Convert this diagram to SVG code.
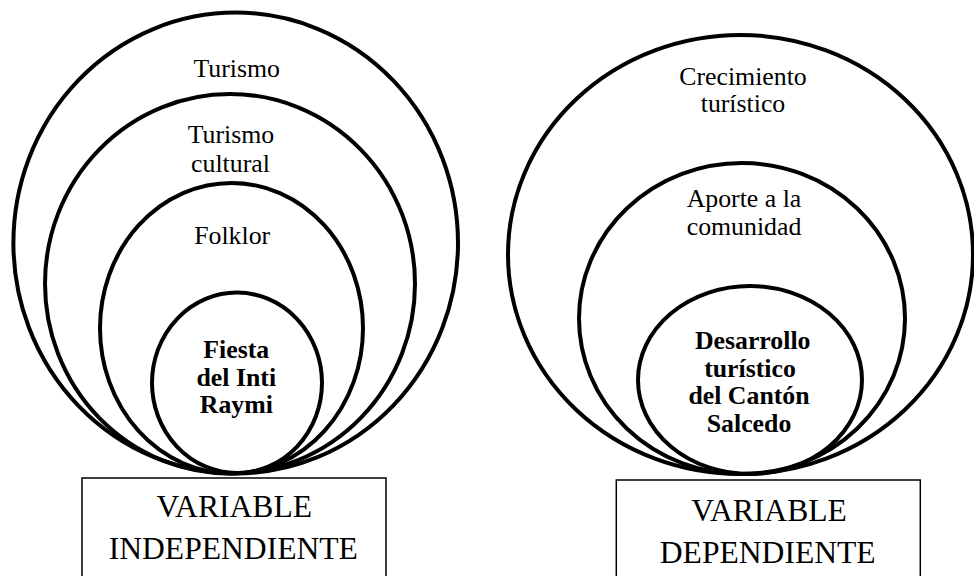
<svg xmlns="http://www.w3.org/2000/svg" width="974" height="576" viewBox="0 0 974 576" font-family="'Liberation Serif', 'DejaVu Serif', serif">
<style>
.ring{fill:none;stroke:#000;stroke-width:4}
.box{fill:#fff;stroke:#000;stroke-width:1.5}
text{font-family:'Liberation Serif','DejaVu Serif',serif}
.t{font-size:25.8px;fill:#000;text-anchor:middle}
.b{font-weight:bold}
.v{font-size:31.6px;fill:#000;text-anchor:middle}
</style>
<rect width="974" height="576" fill="#fff"/>
<g id="left-set">
<g id="turismo"><ellipse class="ring" cx="235.7" cy="243" rx="222.3" ry="230.4"/><text class="t" x="236.7" y="77">Turismo</text></g>
<g id="turismo-cultural"><ellipse class="ring" cx="230" cy="283.7" rx="185" ry="189.7"/><text class="t" x="231" y="143.3">Turismo</text><text class="t" x="230.5" y="171.7">cultural</text></g>
<g id="folklor"><ellipse class="ring" cx="231.5" cy="328.2" rx="131.5" ry="145.3"/><text class="t" x="232.2" y="244.3">Folklor</text></g>
<g id="fiesta"><ellipse class="ring" cx="237" cy="382.8" rx="85" ry="90.2"/><text class="t b" x="236.3" y="358.3">Fiesta</text><text class="t b" x="236.3" y="386">del Inti</text><text class="t b" x="236.3" y="412.7">Raymi</text></g>
</g>
<g id="var-independiente"><rect class="box" x="82" y="478" width="304" height="130"/><text class="v" x="234.2" y="517.3">VARIABLE</text><text class="v" x="233.3" y="559.3">INDEPENDIENTE</text></g>
<g id="right-set">
<g id="crecimiento"><ellipse class="ring" cx="740.5" cy="254.5" rx="232.5" ry="219.5"/><text class="t" x="743" y="85">Crecimiento</text><text class="t" x="743" y="112">turístico</text></g>
<g id="aporte"><ellipse class="ring" cx="742" cy="318.5" rx="163" ry="155.5"/><text class="t" x="744" y="206.7">Aporte a la</text><text class="t" x="744" y="235">comunidad</text></g>
<g id="desarrollo"><ellipse class="ring" cx="750" cy="380" rx="112" ry="94"/><text class="t b" x="752.7" y="349.3">Desarrollo</text><text class="t b" x="750" y="377.3">turístico</text><text class="t b" x="749" y="404.3">del Cantón</text><text class="t b" x="749" y="432.3">Salcedo</text></g>
</g>
<g id="var-dependiente"><rect class="box" x="616.3" y="480" width="304" height="130"/><text class="v" x="769" y="520.7">VARIABLE</text><text class="v" x="767.7" y="562.7">DEPENDIENTE</text></g>
<g id="connectors"/>
</svg>
